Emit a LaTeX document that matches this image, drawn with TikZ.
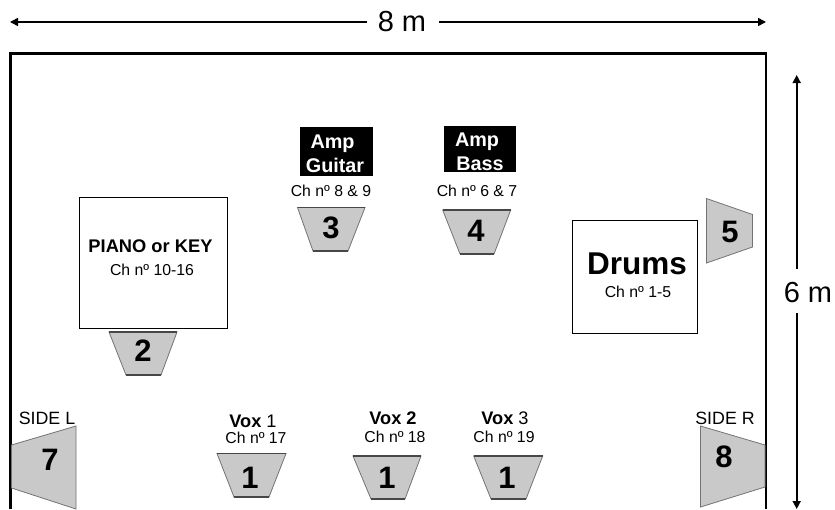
\documentclass[tikz,border=0pt]{standalone}
\usepackage{fontspec}
\setmainfont{Liberation Sans}
\usetikzlibrary{arrows.meta}
\tikzset{
  wall/.style={line width=2.6pt,black},
  dim/.style={line width=1.6pt,black,-{Triangle[length=8pt,width=8pt]}},
  boxed/.style={draw=black,line width=1pt,fill=white,inner sep=0pt,outer sep=0pt,anchor=north west},
  amp/.style={fill=black,draw=none,inner sep=0pt,outer sep=0pt,anchor=north west},
  spk/.style={fill=black!21,draw=black!55,line width=0.8pt,line join=miter},
  spkedge/.style={draw=black!72,line width=1.2pt},
  num/.style={font=\fontsize{31}{31}\selectfont\bfseries,inner sep=0pt},
  chan/.style={font=\fontsize{15.8}{16}\selectfont,inner sep=0pt},
  ampt/.style={font=\fontsize{19.8}{20}\selectfont\bfseries,text=white,inner sep=0pt,anchor=base},
  voxt/.style={font=\fontsize{18.2}{18}\selectfont,inner sep=0pt,anchor=base},
  sidet/.style={font=\fontsize{17.8}{18}\selectfont,inner sep=0pt,anchor=base},
  dimt/.style={font=\fontsize{29}{29}\selectfont,inner sep=0pt}
}
\newcommand{\spkdown}[6]{%
  \draw[spk] (#1,#3) -- (#2,#3) -- (#5,#6) -- (#4,#6) -- cycle;
  \draw[spkedge] (#1,#3) -- (#2,#3) (#4,#6) -- (#5,#6);}
\begin{document}
\begin{tikzpicture}[x=1pt,y=-1pt]
\useasboundingbox (0,0) rectangle (835,509);
\fill[white] (0,0) rectangle (835,509);
% room
\draw[wall,line cap=butt] (10.5,509) -- (10.5,53.5) -- (766,53.5) -- (766,509);
% dimensions
\node[dimt] (w) at (402,22) {8 m};
\coordinate (wl) at (10,22);
\coordinate (wr) at (766,22);
\draw[dim] (w.west) ++(-11,0) -- (wl);
\draw[dim] (w.east) ++(13,0) -- (wr);
\node[dimt] (h) at (808,293) {6 m};
\coordinate (ht) at (796.7,75);
\coordinate (hb) at (796.7,509);
\draw[dim] (h.north -| ht) ++(0,-14) -- (ht);
\draw[dim] (h.south -| hb) ++(0,10) -- (hb);
% boxes
\node[boxed,minimum width=148.5pt,minimum height=131.5pt] (piano) at (79,197) {};
\node[boxed,minimum width=124.5pt,minimum height=112.5pt] (drums) at (572.5,220.5) {};
\node[amp,minimum width=73.5pt,minimum height=49pt] (ampg) at (299.5,126.5) {};
\node[amp,minimum width=72.5pt,minimum height=46.5pt] (ampb) at (443.5,125.5) {};
% amp text
\node[ampt] (ag1) at (332.5,148) {Amp};
\node[ampt] (ag2) at (335,172) {Guitar};
\node[ampt] (ab1) at (477,146) {Amp};
\node[ampt] (ab2) at (480,170) {Bass};
% channel text
\node[chan] (c89) at (331,191) {Ch nº 8 \& 9};
\node[chan] (c67) at (477,191) {Ch nº 6 \& 7};
\node[font=\fontsize{18.3}{18}\selectfont\bfseries,inner sep=0pt] (pk) at (150.5,246) {PIANO or KEY};
\node[chan] (c1016) at (152,270) {Ch nº 10-16};
\node[font=\fontsize{31.5}{32}\selectfont\bfseries,inner sep=0pt] (dr) at (637,264) {Drums};
\node[chan] (c15) at (638,292) {Ch nº 1-5};
\node[voxt] (v1) at (253,427) {\textbf{Vox} 1};
\node[chan] (c17) at (256,438) {Ch nº 17};
\node[voxt] (v2) at (393,424) {\textbf{Vox 2}};
\node[chan] (c18) at (395,437) {Ch nº 18};
\node[voxt] (v3) at (505,424) {\textbf{Vox} 3};
\node[chan] (c19) at (504,437) {Ch nº 19};
\node[sidet] (sl) at (47,424) {SIDE L};
\node[sidet] (sr) at (725,424) {SIDE R};
% speakers
\spkdown{297.5}{365}{207.5}{313}{348}{251}
\spkdown{442.7}{510.7}{210}{460}{494}{254}
\spkdown{109}{177}{332}{126}{161}{375}
\spkdown{217}{286}{453.5}{234}{269}{497}
\spkdown{353}{421}{456}{371}{405}{499}
\spkdown{473.7}{542.7}{456}{491}{526}{499}
\draw[spk] (706.5,198.5) -- (752.5,214.5) -- (752.5,247) -- (706.5,263) -- cycle;
\draw[spk] (76,426) -- (11.5,445) -- (11.5,488) -- (76,509) -- cycle;
\draw[spk] (700.5,426) -- (765,445) -- (765,487) -- (700.5,507) -- cycle;
% numbers
\node[num] (n3) at (331,228) {3};
\node[num] (n4) at (476,231) {4};
\node[num] (n2) at (143,351) {2};
\node[num] (n5) at (730,232) {5};
\node[num] (n7) at (50,460) {7};
\node[num] (n8) at (724,457) {8};
\node[num] (n1a) at (250,478) {1};
\node[num] (n1b) at (387,478) {1};
\node[num] (n1c) at (507,478) {1};
\end{tikzpicture}
\end{document}
